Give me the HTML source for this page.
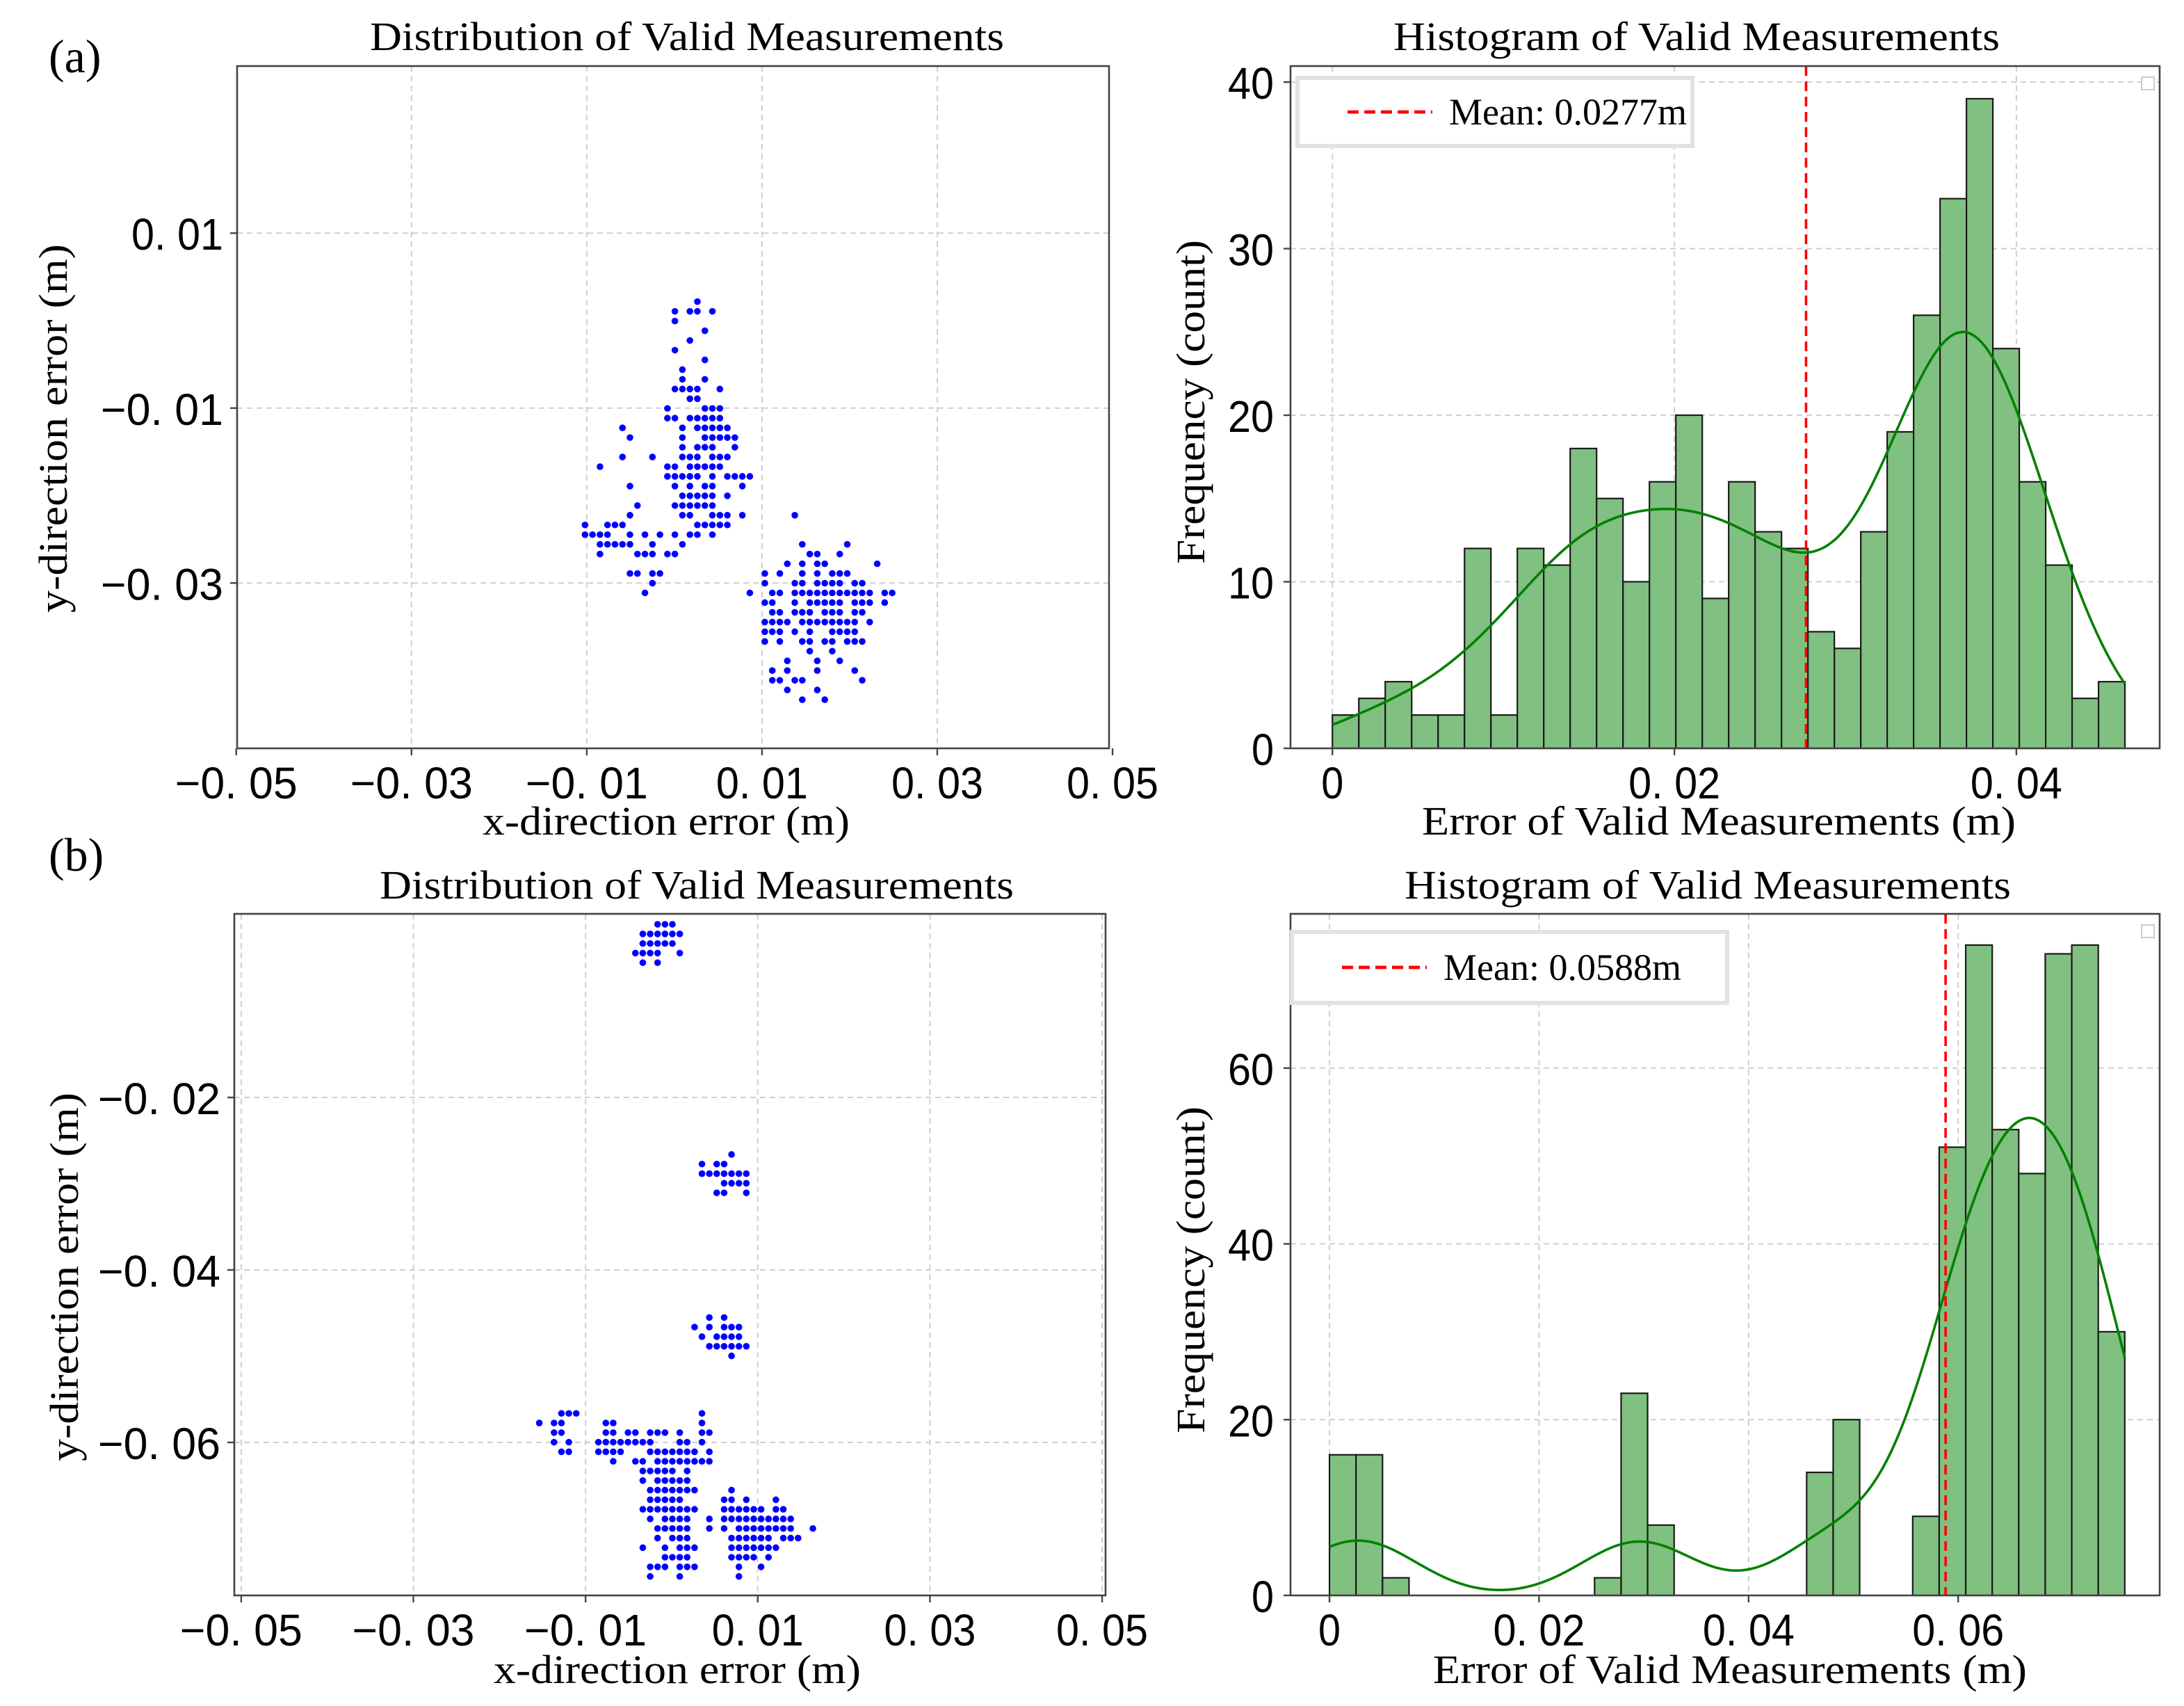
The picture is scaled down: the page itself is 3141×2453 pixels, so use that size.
<!DOCTYPE html>
<html><head><meta charset="utf-8"><title>Valid Measurements</title>
<style>
html,body{margin:0;padding:0;background:#fff;}
svg{display:block;}
.serif{font-family:"Liberation Serif","Noto Serif CJK SC",serif;fill:#000;}
.sans{font-family:"Liberation Sans","Noto Sans CJK SC",sans-serif;fill:#000;}
</style></head>
<body>
<svg id="fig" xmlns="http://www.w3.org/2000/svg" width="3141" height="2453" viewBox="0 0 1570.5 1226.5">
<rect x="0" y="0" width="1570.5" height="1226.5" fill="#fff"/>
<text class="serif" x="35" y="52" font-size="34">(a)</text>
<text class="serif" x="35" y="626" font-size="34">(b)</text>
<g id="layer"></g>
</svg>
<script>
// ---------- DATA ----------
const scatterA_X0 = -0.0102, scatterA_DX = 0.000855, scatterA_Y0 = 0.00217, scatterA_DY = 0.00111;
const scatterARows = [
[0,[15]],[1,[12,14,15,17]],[2,[12]],[3,[16]],[4,[14]],[5,[12]],[6,[16]],[7,[13]],[8,[13,16]],
[9,[12,13,14,15,18]],[10,[14,15]],[11,[11,16,17,18]],[12,[11,12,14,15,16,17,18]],
[13,[5,13,15,16,17,18,19]],[14,[6,13,16,17,18,19,20]],[15,[13,15,16,17,20]],
[16,[5,9,13,14,15,17,18,19]],[17,[2,11,12,14,15,16,17,18]],[18,[11,12,13,14,15,17,19,20,21,22]],
[19,[6,12,14,16,17,21]],[20,[13,14,15,16,17,19]],[21,[7,12,13,14,15,16,17]],
[22,[6,13,14,17,18,19,21,28]],[23,[0,3,4,5,15,16,17,18,19]],[24,[0,1,2,3,6,8,10,12,14,15,17]],
[25,[2,3,4,5,6,9,13,29,35]],[26,[2,7,8,9,11,12,30,31,34]],[27,[27,29,31,32,39]],
[28,[6,7,9,10,24,26,29,31,33,34,35]],[29,[9,24,28,29,31,32,33,34,36,37]],
[30,[8,22,25,26,28,29,30,31,32,33,34,35,36,37,38,40,41]],[31,[24,25,28,30,31,32,33,34,36,37,38,40]],
[32,[25,26,28,29,30,32,33,34,36,37]],[33,[24,25,26,27,29,30,31,32,33,34,35,36,38]],
[34,[24,25,26,28,30,33,34,35,36]],[35,[24,26,29,30,32,33,35,36,37]],[36,[30,33]],
[37,[27,31,34]],[38,[25,27,31,36]],[39,[25,26,28,29,37]],[40,[27,31]],[41,[29,32]]
];
const scatterB_X0 = -0.01538, scatterB_DX = 0.000859, scatterB_Y0 = 0.000077, scatterB_DY = 0.001112;
const scatterBRows = [
[0,[16,17,18]],[1,[14,15,16,17,18,19]],[2,[14,15,16,17,18]],[3,[13,14,15,16,19]],[4,[14,16]],
[24,[26]],[25,[22,24,25]],[26,[22,23,24,25,26,27,28]],[27,[25,26,27,28]],[28,[24,25,28]],
[41,[23,25]],[42,[21,23,25,26,27]],[43,[22,24,25,26,27]],[44,[23,24,25,26,27,28]],[45,[26]],
[51,[3,4,5,22]],[52,[0,2,3,9,10,22]],[53,[2,3,9,10,12,13,15,16,17,19,22,23]],
[54,[2,4,8,9,10,11,12,13,14,15,19,20,22]],[55,[3,4,8,9,10,11,15,16,17,18,19,20,21,23]],
[56,[10,13,14,16,17,18,19,20,21,22,23]],[57,[14,15,16,17,18,20]],[58,[14,16,17,18,19,20]],
[59,[15,16,17,18,19,20,21,26]],[60,[15,16,17,18,19,25,26,28,32]],
[61,[14,15,16,17,18,19,20,21,25,26,27,28,29,30,32,33]],
[62,[15,17,18,19,20,23,25,26,27,28,29,30,31,32,33,34]],
[63,[16,17,18,19,20,23,25,27,28,29,30,31,32,33,34,37]],
[64,[16,18,19,20,26,27,28,29,30,31,33,34,35]],[65,[14,17,19,20,21,26,27,28,29,30,31,32]],
[66,[17,18,19,20,26,27,28,29,31]],[67,[15,16,17,19,20,21,27,30]],[68,[15,19,27]]
];
const scatterXTicks = [-0.05,-0.03,-0.01,0.01,0.03,0.05];
const scatterXTickLabels = ["\u22120. 05","\u22120. 03","\u22120. 01","0. 01","0. 03","0. 05"];
const scatterAYTicks = [0.01,-0.01,-0.03];
const scatterAYTickLabels = ["0. 01","\u22120. 01","\u22120. 03"];
const scatterBYTicks = [-0.02,-0.04,-0.06];
const scatterBYTickLabels = ["\u22120. 02","\u22120. 04","\u22120. 06"];

const histACounts = [2,3,4,2,2,12,2,12,11,18,15,10,16,20,9,16,13,12,7,6,13,19,26,33,39,24,16,11,3,4];
const histABinWidth = 0.001545;
const histAMean = 0.0277;
const histAXTicks = [0,0.02,0.04];
const histAXTickLabels = ["0","0. 02","0. 04"];
const histAYTicks = [0,10,20,30,40];
const histAYTickLabels = ["0","10","20","30","40"];
const histBCounts = [16,16,2,0,0,0,0,0,0,0,2,23,8,0,0,0,0,0,14,20,0,0,9,51,74,53,48,73,74,30];
const histBBinWidth = 0.00253;
const histBMean = 0.0588;
const histBXTicks = [0,0.02,0.04,0.06];
const histBXTickLabels = ["0","0. 02","0. 04","0. 06"];
const histBYTicks = [0,20,40,60];
const histBYTickLabels = ["0","20","40","60"];

// ---------- RENDER ----------
const NS = "http://www.w3.org/2000/svg";
const layer = document.getElementById('layer');
function mk(tag, attrs, parent){
  const e = document.createElementNS(NS, tag);
  for (const k in attrs) e.setAttribute(k, attrs[k]);
  (parent||layer).appendChild(e);
  return e;
}
function txt(str, attrs, parent){ const t = mk('text', attrs, parent); t.textContent = str; return t; }
function tickLen(s){ return s.length<=1?16:(s.length===2?33:(s.startsWith('\u2212')?88:66)); }

function axes(box, xdom, ydom){
  const sx = v => box.x + (v - xdom[0])/(xdom[1]-xdom[0])*box.w;
  const sy = v => box.y + box.h - (v - ydom[0])/(ydom[1]-ydom[0])*box.h;
  return {sx, sy};
}

function frame(g, box, name){
  const r = mk('rect',{x:box.x,y:box.y,width:box.w,height:box.h,fill:'none',stroke:'#444','stroke-width':1.3},g);
  
  
}

function grid(g, box, A, xt, yt){
  xt.forEach(v=>{ const x=A.sx(v); if(x>box.x+1&&x<box.x+box.w-1){
    const l=mk('line',{x1:x,x2:x,y1:box.y,y2:box.y+box.h,stroke:'#cfcfcf','stroke-width':1,'stroke-dasharray':'4,3'},g);
     }});
  yt.forEach(v=>{ const y=A.sy(v); if(y>box.y+1&&y<box.y+box.h-1){
    const l=mk('line',{x1:box.x,x2:box.x+box.w,y1:y,y2:y,stroke:'#cfcfcf','stroke-width':1,'stroke-dasharray':'4,3'},g);
     }});
}

function ticks(g, box, A, xt, xl, yt, yl, xBase, yRight){
  xt.forEach((v,i)=>{ const x=A.sx(v);
    mk('line',{x1:x,x2:x,y1:box.y+box.h,y2:box.y+box.h+5,stroke:'#444','stroke-width':1.2},g);
    const t=txt(xl[i],{class:'sans',x:x,y:xBase,'font-size':32,'text-anchor':'middle',textLength:tickLen(xl[i]),lengthAdjust:'spacingAndGlyphs'},g);
     
  });
  yt.forEach((v,i)=>{ const y=A.sy(v);
    mk('line',{x1:box.x-5,x2:box.x,y1:y,y2:y,stroke:'#444','stroke-width':1.2},g);
    const t=txt(yl[i],{class:'sans',x:yRight,y:y+12,'font-size':32,'text-anchor':'end',textLength:tickLen(yl[i]),lengthAdjust:'spacingAndGlyphs'},g);
     
  });
}

function labels(g, title, tx, ty, tw, xlab, xx, xy, xw, ylab, yx, yy, yw){
  let t=txt(title,{class:'serif',x:tx,y:ty,'font-size':29,'text-anchor':'middle',textLength:tw,lengthAdjust:'spacingAndGlyphs'},g);
   
  t=txt(xlab,{class:'serif',x:xx,y:xy,'font-size':29,'text-anchor':'middle',textLength:xw,lengthAdjust:'spacingAndGlyphs'},g);
   
  t=txt(ylab,{class:'serif',x:0,y:0,'font-size':29,'text-anchor':'middle',textLength:yw,lengthAdjust:'spacingAndGlyphs',transform:`translate(${yx},${yy}) rotate(-90)`},g);
   
}

function scatter(name, box, xdom, ydom, rows, X0, DX, Y0, DY, yt, yl, textOpts){
  const g = mk('g',{});
  
  
  const A = axes(box, xdom, ydom);
  grid(g, box, A, scatterXTicks, yt);
  rows.forEach(([r, cols])=>{
    const yv = Y0 - r*DY;
    cols.forEach(c=>{
      const xv = X0 + c*DX;
      const p = mk('circle',{cx:A.sx(xv),cy:A.sy(yv),r:2.4,fill:'#0000ff'},g);
      
      
    });
  });
  frame(g, box, name);
  ticks(g, box, A, scatterXTicks, scatterXTickLabels, yt, yl, textOpts.xBase, box.x-10);
  labels(g, ...textOpts.lab);
}

function kde(counts, bw, h){
  let n=0, s=0; counts.forEach((c,i)=>{n+=c; s+=c*(i+0.5)*bw;});
  const m=s/n; let v=0; counts.forEach((c,i)=>{v+=c*((i+0.5)*bw-m)**2;});
  const sd=Math.sqrt(v/n); const band=h*sd*Math.pow(n,-0.2);
  return {n, band, f:(x)=>{ let d=0; counts.forEach((c,i)=>{ const z=(x-(i+0.5)*bw)/band; d+=c*Math.exp(-0.5*z*z);}); return d/(n*band*Math.sqrt(2*Math.PI))*n*bw; }};
}

function hist(name, box, xdom, ydom, counts, bw, mean, xt, xl, yt, yl, kdeFactor, meanLabel, legend, textOpts){
  const g = mk('g',{});
  
  
  const A = axes(box, xdom, ydom);
  grid(g, box, A, xt, yt);
  counts.forEach((c,i)=>{
    if(c<=0) return;
    const x0=A.sx(i*bw), x1=A.sx((i+1)*bw), y=A.sy(c), y0=A.sy(0);
    const b = mk('rect',{x:x0,y:y,width:x1-x0,height:y0-y,fill:'#80c080',stroke:'#1a1a1a','stroke-width':1.1},g);
    
    
  });
  const K = kde(counts, bw, kdeFactor);
  let d=''; const xEnd = counts.length*bw;
  for(let k=0;k<=300;k++){ const x=xEnd*k/300; d+=(k?'L':'M')+A.sx(x).toFixed(2)+','+A.sy(K.f(x)).toFixed(2); }
  const kp = mk('path',{d:d,fill:'none',stroke:'#008000','stroke-width':1.8},g);
  
  
  const ml = mk('line',{x1:A.sx(mean),x2:A.sx(mean),y1:box.y,y2:box.y+box.h,stroke:'#ff0000','stroke-width':1.8,'stroke-dasharray':'7,4'},g);
  
  
  frame(g, box, name);
  const lg = mk('g',{},g);
  
  
  mk('rect',{x:legend.x,y:legend.y,width:legend.w,height:legend.h,fill:'#fff',stroke:'#e2e2e2','stroke-width':3},lg);
  mk('line',{x1:legend.x+36,x2:legend.x+97,y1:legend.y+legend.h/2,y2:legend.y+legend.h/2,stroke:'#ff0000','stroke-width':2.4,'stroke-dasharray':'8,4'},lg);
  const lt = txt(meanLabel,{class:'serif',x:legend.x+109,y:legend.y+legend.h/2+9,'font-size':27},lg);
  
  
  const sq = mk('rect',{x:box.x+box.w-13,y:box.y+8,width:9,height:9,fill:'#fff',stroke:'#ccc','stroke-width':1},g);
  
  
  ticks(g, box, A, xt, xl, yt, yl, textOpts.xBase, box.x-12);
  labels(g, ...textOpts.lab);
}

scatter('scatter-a', {x:170.5,y:47.5,w:627,h:490.5}, [-0.0499,0.0496], [-0.0489,0.0291],
  scatterARows, scatterA_X0, scatterA_DX, scatterA_Y0, scatterA_DY, scatterAYTicks, scatterAYTickLabels,
  {xBase:574, lab:['Distribution of Valid Measurements',494,36,456,'x-direction error (m)',479,600,264,'y-direction error (m)',48,308,265]});
hist('histogram-a', {x:928,y:47.5,w:625,h:490.5}, [-0.00245,0.04838], [0,40.96],
  histACounts, histABinWidth, histAMean, histAXTicks, histAXTickLabels, histAYTicks, histAYTickLabels, 1.0,
  'Mean: 0.0277m', {x:933,y:56,w:284,h:49},
  {xBase:574, lab:['Histogram of Valid Measurements',1220,36,436,'Error of Valid Measurements (m)',1236,600,427,'Frequency (count)',866,289,233]});
scatter('scatter-b', {x:168.5,y:657,w:626.5,h:490}, [-0.0508,0.0504], [-0.07774,0.00129],
  scatterBRows, scatterB_X0, scatterB_DX, scatterB_Y0, scatterB_DY, scatterBYTicks, scatterBYTickLabels,
  {xBase:1183, lab:['Distribution of Valid Measurements',501,646,456,'x-direction error (m)',487,1210,264,'y-direction error (m)',56,918,265]});
hist('histogram-b', {x:928,y:657,w:625,h:490}, [-0.00372,0.07923], [0,77.55],
  histBCounts, histBBinWidth, histBMean, histBXTicks, histBXTickLabels, histBYTicks, histBYTickLabels, 1.0,
  'Mean: 0.0588m', {x:929,y:670,w:313,h:51},
  {xBase:1183, lab:['Histogram of Valid Measurements',1228,646,436,'Error of Valid Measurements (m)',1244,1210,427,'Frequency (count)',866,913,235]});
</script>
</body></html>
